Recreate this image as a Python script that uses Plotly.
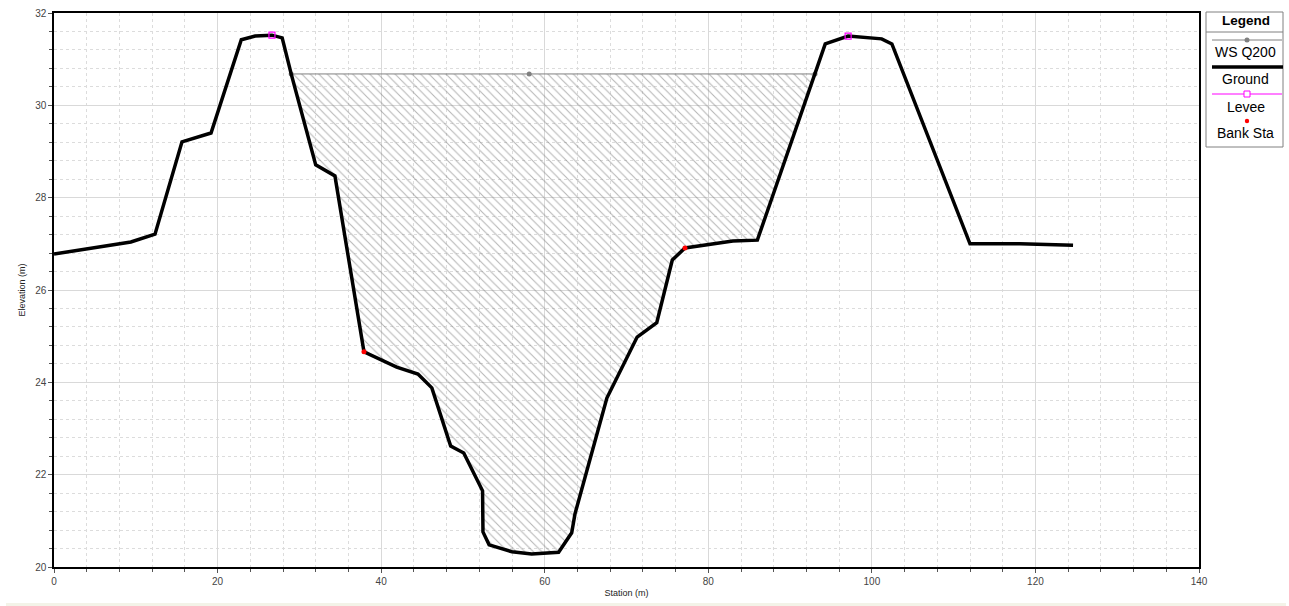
import plotly.graph_objects as go

# Cross-section ground profile
station = [0.0, 9.4, 12.35, 15.65, 19.2, 22.9, 24.6, 26.65, 27.9, 29.0, 32.0, 34.35,
           37.9, 41.9, 44.5, 46.2, 48.5, 50.1, 52.4, 52.45, 53.2, 56.0, 58.4, 61.7,
           63.3, 63.7, 67.6, 71.3, 73.7, 75.6, 77.15, 83.0, 86.0, 93.05, 94.3, 97.1,
           101.2, 102.45, 112.0, 118.1, 124.6]
elevation = [26.78, 27.04, 27.21, 29.21, 29.4, 31.42, 31.5, 31.52, 31.46, 30.68, 28.71, 28.47,
             24.66, 24.33, 24.18, 23.88, 22.62, 22.47, 21.65, 20.76, 20.48, 20.33, 20.28, 20.32,
             20.74, 21.15, 23.66, 24.98, 25.29, 26.65, 26.91, 27.06, 27.08, 30.68, 31.33, 31.5,
             31.44, 31.33, 27.0, 27.0, 26.97]

# Water surface Q200
ws_station = [29.0, 58.1, 93.05]
ws_elev = [30.68, 30.68, 30.68]

# Levees and bank stations
levee_station = [26.65, 97.1]
levee_elev = [31.52, 31.5]
bank_station = [37.9, 77.15]
bank_elev = [24.66, 26.91]

legend_labels = ["WS Q200", "Ground", "Levee", "Bank Sta"]

FONT = "Liberation Sans, Arial, sans-serif"

# Wetted area polygon: along the water surface, then back along the ground
ws_lo, ws_hi = ws_station[0], ws_station[-1]
poly_x = [ws_lo, ws_hi]
poly_y = [ws_elev[0], ws_elev[-1]]
for s, e in reversed(list(zip(station, elevation))):
    if ws_lo <= s <= ws_hi:
        poly_x.append(s)
        poly_y.append(e)
poly_x.append(ws_lo)
poly_y.append(ws_elev[0])

fig = go.Figure()

fig.add_trace(go.Scatter(
    x=poly_x, y=poly_y, mode="lines", fill="toself",
    line=dict(width=0, color="rgba(0,0,0,0)"),
    fillcolor="rgba(255,255,255,0)",
    fillpattern=dict(shape="\\", fgcolor="#6e6e6e", bgcolor="rgba(255,255,255,0)",
                     size=6, solidity=0.18),
    hoverinfo="skip", showlegend=False))

fig.add_trace(go.Scatter(
    x=ws_station, y=ws_elev, mode="lines+markers", name=legend_labels[0],
    line=dict(color="#808080", width=1),
    marker=dict(color="#808080", size=5, symbol="circle"), showlegend=False))

fig.add_trace(go.Scatter(
    x=station, y=elevation, mode="lines", name=legend_labels[1],
    line=dict(color="black", width=3.5), showlegend=False))

fig.add_trace(go.Scatter(
    x=levee_station, y=levee_elev, mode="markers", name=legend_labels[2],
    marker=dict(color="#ff00ff", size=6, symbol="square-open", line=dict(width=1.2)),
    showlegend=False))

fig.add_trace(go.Scatter(
    x=bank_station, y=bank_elev, mode="markers", name=legend_labels[3],
    marker=dict(color="#ff0000", size=5, symbol="circle"), showlegend=False))

W, H = 1289, 606
L, R, T, B = 54, 90, 13, 39
pw, ph = W - L - R, H - T - B


def px(x):
    return (x - L) / pw


def py(y):
    return (H - B - y) / ph


shapes = []
annotations = []

# Legend box
shapes.append(dict(type="rect", xref="paper", yref="paper",
                   x0=px(1206), x1=px(1283), y0=py(147), y1=py(12),
                   line=dict(color="#808080", width=1), fillcolor="white", layer="above"))
shapes.append(dict(type="line", xref="paper", yref="paper",
                   x0=px(1206), x1=px(1283), y0=py(32), y1=py(32),
                   line=dict(color="#808080", width=1), layer="above"))
annotations.append(dict(text="<b>Legend</b>", xref="paper", yref="paper",
                        x=px(1246), y=py(21), xanchor="center", yanchor="middle",
                        showarrow=False, font=dict(family=FONT, size=13.5, color="black")))

# WS Q200 sample
shapes.append(dict(type="line", xref="paper", yref="paper",
                   x0=px(1212), x1=px(1282), y0=py(40), y1=py(40),
                   line=dict(color="#808080", width=1), layer="above"))
shapes.append(dict(type="circle", xref="paper", yref="paper",
                   xsizemode="pixel", ysizemode="pixel",
                   xanchor=px(1247), yanchor=py(40), x0=-2.5, x1=2.5, y0=-2.5, y1=2.5,
                   fillcolor="#808080", line=dict(color="#808080", width=0), layer="above"))
# Ground sample
shapes.append(dict(type="line", xref="paper", yref="paper",
                   x0=px(1212), x1=px(1283), y0=py(67), y1=py(67),
                   line=dict(color="black", width=3.5), layer="above"))
# Levee sample
shapes.append(dict(type="line", xref="paper", yref="paper",
                   x0=px(1212), x1=px(1282), y0=py(94), y1=py(94),
                   line=dict(color="#ff00ff", width=1), layer="above"))
shapes.append(dict(type="rect", xref="paper", yref="paper",
                   xsizemode="pixel", ysizemode="pixel",
                   xanchor=px(1247), yanchor=py(94), x0=-3, x1=3, y0=-3, y1=3,
                   fillcolor="white", line=dict(color="#ff00ff", width=1), layer="above"))
# Bank Sta sample
shapes.append(dict(type="circle", xref="paper", yref="paper",
                   xsizemode="pixel", ysizemode="pixel",
                   xanchor=px(1247), yanchor=py(121), x0=-2.2, x1=2.2, y0=-2.2, y1=2.2,
                   fillcolor="#ff0000", line=dict(color="#ff0000", width=0), layer="above"))

for lab, yy in zip(legend_labels, [52, 79, 107, 133]):
    annotations.append(dict(text=lab, xref="paper", yref="paper",
                            x=px(1246), y=py(yy), xanchor="center", yanchor="middle",
                            showarrow=False, font=dict(family=FONT, size=14, color="black")))

# Faint strip along the bottom of the window
shapes.append(dict(type="rect", xref="paper", yref="paper",
                   x0=px(6), x1=px(1286), y0=py(606), y1=py(603),
                   fillcolor="#f3f3e8", line=dict(width=0), layer="below"))

axis_common = dict(
    showline=True, linecolor="black", linewidth=1.5, mirror=True,
    ticks="outside", ticklen=4, tickcolor="#555",
    tickfont=dict(family=FONT, size=10, color="#444"),
    showgrid=True, gridcolor="#d9d9d9", gridwidth=1,
    zeroline=False, automargin=False,
)

fig.update_xaxes(
    range=[0, 140], dtick=20, tick0=0,
    minor=dict(dtick=4, showgrid=True, gridcolor="#dcdcdc", griddash="dot",
               ticks="outside", ticklen=3, tickcolor="#555"),
    title=dict(text="Station (m)", font=dict(family=FONT, size=9, color="#222"), standoff=4),
    **axis_common)
fig.update_yaxes(
    range=[20, 32], dtick=2, tick0=20,
    minor=dict(dtick=0.4, showgrid=True, gridcolor="#dcdcdc", griddash="dot",
               ticks="outside", ticklen=3, tickcolor="#555"),
    title=dict(text="Elevation (m)", font=dict(family=FONT, size=9, color="#222"), standoff=8),
    **axis_common)

fig.update_layout(
    width=W, height=H,
    margin=dict(l=L, r=R, t=T, b=B, autoexpand=False),
    paper_bgcolor="white", plot_bgcolor="white",
    showlegend=False, shapes=shapes, annotations=annotations,
    font=dict(family=FONT),
)

fig.write_html("out.html")
